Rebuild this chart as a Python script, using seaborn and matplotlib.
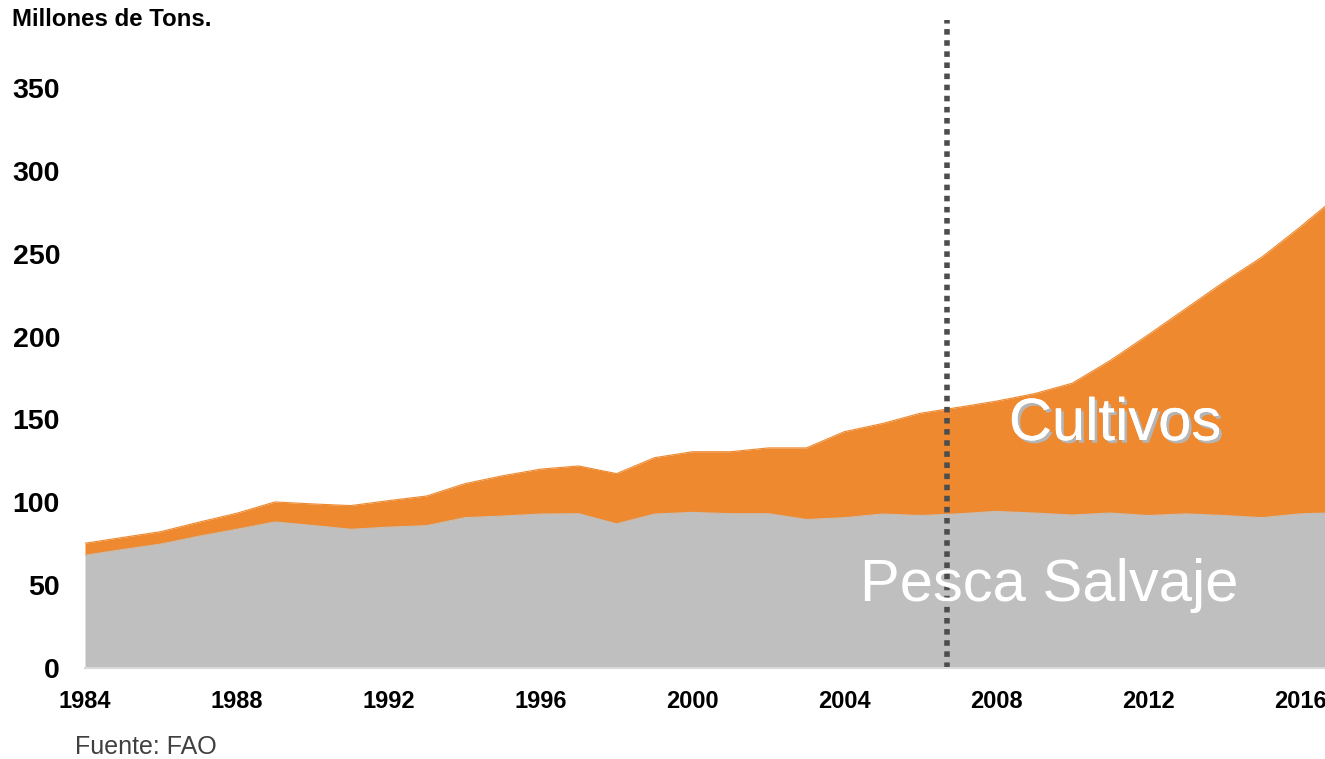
import numpy as np
import pandas as pd
import matplotlib
matplotlib.use("Agg")
import matplotlib.pyplot as plt
import matplotlib.patheffects as pe
import seaborn as sns

years = list(range(1984, 2018))
pesca_salvaje = [68, 71.5, 74.8, 79.5, 83.7, 88.1, 86, 83.7, 85, 85.9,
                 90.7, 91.7, 92.9, 93.1, 87, 92.9, 93.9, 93.1, 93.1, 89.6,
                 90.7, 92.9, 92, 93, 94.5, 93.5, 92.3, 93.5, 92, 93,
                 92, 90.7, 93, 93.7]
total = [75.3, 78.8, 82.3, 88, 93.4, 100.2, 99, 98, 101, 103.8,
         111.2, 116, 120, 121.9, 117.3, 126.9, 130.5, 130.5, 132.8, 132.8,
         142.6, 147.5, 153.7, 157.3, 161, 165.5, 171.8, 185.5, 201, 217,
         233, 248, 266, 285]
cultivos = [t - w for t, w in zip(total, pesca_salvaje)]
x_ticks = [1984, 1988, 1992, 1996, 2000, 2004, 2008, 2012, 2016]
y_ticks = [0, 50, 100, 150, 200, 250, 300, 350]
marker_year = 2006.7

df = pd.DataFrame({"year": years, "Pesca Salvaje": pesca_salvaje,
                   "Cultivos": cultivos, "total": total})

sns.set_theme(style="white")
plt.rcParams["font.family"] = ["Liberation Sans", "DejaVu Sans"]

fig = plt.figure(figsize=(13.25, 7.59), dpi=100)
ax = fig.add_axes([85/1325, 1 - 668/759, 1 - 85/1325, (668 - 20)/759])

gray = "#bfbfbf"
orange = "#ee892f"
ax.stackplot(df["year"], df["Pesca Salvaje"], df["Cultivos"],
             colors=[gray, orange], linewidth=0)
sns.lineplot(data=df, x="year", y="total", ax=ax, color=orange, linewidth=0.8)
sns.lineplot(data=df, x="year", y="Pesca Salvaje", ax=ax, color=gray, linewidth=0.8)

ax.axvline(marker_year, color="#4d4d4d", linewidth=4, linestyle=(0, (1, 1)),
           dash_capstyle="butt", ymin=0, ymax=1)

ax.set_xlim(1984, 2016.66)
ax.set_ylim(0, 391)
ax.set_xticks(x_ticks)
ax.set_xticklabels([str(v) for v in x_ticks], fontsize=17, fontweight="bold")
ax.set_yticks(y_ticks)
ax.set_yticklabels([str(v) for v in y_ticks], fontsize=20.5, fontweight="bold")
ax.tick_params(axis="y", length=0, pad=18, colors="black")
ax.tick_params(axis="x", length=0, pad=16, colors="black")
ax.set_xlabel("")
ax.set_ylabel("")
for s in ["top", "right", "left"]:
    ax.spines[s].set_visible(False)
ax.spines["bottom"].set_color("#d9d9d9")
ax.spines["bottom"].set_linewidth(1.5)
ax.grid(False)

fig.text(12/1325, 1 - 20/759, "Millones de Tons.", fontsize=17.3, fontweight="bold",
         color="black", ha="left", va="center")
fig.text(75/1325, 1 - 747/759, "Fuente: FAO", fontsize=18, color="#404040",
         ha="left", va="center")

fig.text(1115/1325, 1 - 440/759, "Cultivos", fontsize=43, color="white",
         ha="center", va="baseline",
         path_effects=[pe.withSimplePatchShadow(offset=(2, -2),
                                                shadow_rgbFace="#b5b5b5", alpha=1),
                       pe.Normal()])
fig.text(1049/1325, 1 - 601/759, "Pesca Salvaje", fontsize=43, color="white",
         ha="center", va="baseline")

fig.savefig("out.png", dpi=100)
